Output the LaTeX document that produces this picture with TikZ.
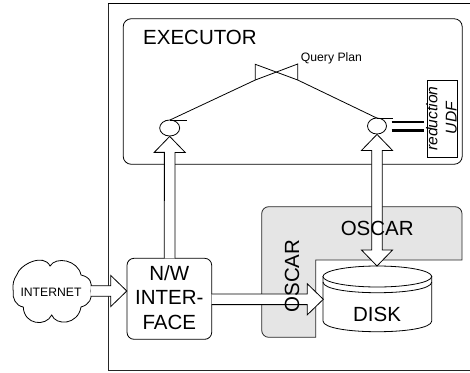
\documentclass[tikz,border=0pt]{standalone}
\usepackage{fontspec}
\setmainfont{Liberation Sans}
\usetikzlibrary{calc,shapes.geometric}
\newcommand{\blockarrow}[2]{\draw[conn] let \p1=($(#2)-(#1)$), \n1={atan2(\y1,\x1)}, \n2={veclen(\x1,\y1)} in [shift={(#1)},rotate=\n1]
  (0pt,5.3pt)--(\n2-16pt,5.3pt)--(\n2-16pt,15.5pt)--(\n2+0pt,0pt)--(\n2-16pt,-15.5pt)--(\n2-16pt,-5.3pt)--(0pt,-5.3pt);}
\newcommand{\bothblockarrow}[2]{\draw[conn,line join=miter] let \p1=($(#2)-(#1)$), \n1={atan2(\y1,\x1)}, \n2={veclen(\x1,\y1)} in [shift={(#1)},rotate=\n1]
  (16pt,5.3pt)--(\n2-16pt,5.3pt)--(\n2-16pt,15.5pt)--(\n2+0pt,0pt)--(\n2-16pt,-15.5pt)--(\n2-16pt,-5.3pt)--(16pt,-5.3pt)--(16pt,-15.5pt)--(0pt,0pt)--(16pt,15.5pt)--cycle;}
\tikzset{
  x=1pt,y=-1pt,
  line/.style={line width=0.8pt,black},
  conn/.style={line width=0.8pt,draw=black,fill=white},
  bigtext/.style={font=\fontsize{20.5}{24.3}\selectfont,inner sep=0pt,text=black},
  smalltext/.style={font=\fontsize{12.2}{14}\selectfont,inner sep=0pt,text=black},
  udftext/.style={font=\fontsize{15.6}{18}\selectfont\itshape,inner sep=0pt,text=black,rotate=90,anchor=base},
  roundbox/.style={draw=black,line width=0.8pt,rounded corners=7pt,fill=white},
  joinnode/.style={draw=black,line width=0.8pt,ellipse,fill=white,inner sep=0pt,minimum width=20pt,minimum height=16pt},
}
\begin{document}
\begin{tikzpicture}
\useasboundingbox (0,0) rectangle (470,372);
% outer frame (open on the right)
\draw[line width=0.9pt,black!85] (108,3.5) -- (108,370) -- (470,370);
\draw[line width=0.9pt,black] (108,3.5) -- (470,3.5);
% executor
\node[draw=black,line width=0.8pt,rounded corners=8pt,minimum width=339pt,minimum height=145.5pt,inner sep=0pt] (executor) at (292.7,91.5) {};
% oscar
\path[draw=black!85,fill=black!10,line width=0.8pt,rounded corners=7pt]
  (315.7,260) [sharp corners] -- (462,260) [rounded corners=7pt] -- (462,206.7) -- (261.7,206.7) -- (261.7,337.3) [sharp corners] -- (315.7,337.3) -- cycle;
% disk
\draw[line,fill=white] (323,276.5) -- (323,321) .. controls (323,335.3) and (431.7,335.3) .. (431.7,321) -- (431.7,276.5) -- cycle;
\draw[line,fill=white] (377.35,276.5) ellipse [x radius=54.35,y radius=10.5];
\draw[line] (323,282) .. controls (323,296.3) and (431.7,296.3) .. (431.7,282);
\coordinate (disktop) at (377,266);
\coordinate (diskwest) at (323.3,299.3);
% network interface
\node[roundbox,minimum width=84.7pt,minimum height=81pt,inner sep=0pt,bigtext,align=center,text depth=3pt] (nw) at (169.35,298.8) {N/W\\INTER-\\FACE};
% query plan joins
\node[joinnode] (jl) at (169.7,128) {};
\node[joinnode,minimum width=19pt] (jr) at (377,126) {};
\coordinate (ltl) at (255.3,64.3);
\coordinate (lbl) at (255.3,80);
\coordinate (rtr) at (297.7,64);
\coordinate (rbr) at (297.7,80);
\coordinate (jlt) at (170,120);
\coordinate (jrt) at (376.7,118);
\draw[line] (jlt) -- (lbl) -- (ltl) -- (rbr) -- (jrt);
\draw[line] (lbl) -- (rtr) -- (rbr);
\draw[line] (jlt) -- ++(16.7,0);
\draw[line] (jrt) -- ++(16,0);
% udf
\node[draw=black,line width=0.8pt,minimum width=30.4pt,minimum height=76.7pt,inner sep=0pt] (udf) at (442.5,118.7) {};
\draw[line width=2.5pt,black] (391.7,122) -- (424.3,122);
\draw[line width=2.5pt,black] (391.7,130.3) -- (424.3,130.3);
% cloud
\draw[line] (16.7,275) .. controls (20,264) and (44,253) .. (50,266)
  .. controls (56,256) and (78,260) .. (81,275)
  .. controls (90,277) and (93,283) .. (90.7,291)
  .. controls (93,298) and (89,305) .. (81,307)
  .. controls (78,325) and (56,326) .. (51.7,315)
  .. controls (46,327) and (24,325) .. (23.3,307)
  .. controls (16,306) and (12,298) .. (13.3,291.5)
  .. controls (12,284) and (14,279) .. (16.7,275) -- cycle;
\coordinate (cloudeast) at (90.7,291);
\coordinate (nwwest) at (126.8,291);
\coordinate (nweast) at (211.7,299.3);
\coordinate (nwnorth) at (169.6,258.3);
% block arrows
\blockarrow{cloudeast}{nwwest}
\blockarrow{nwnorth}{jl.south}
\blockarrow{nweast}{diskwest}
\bothblockarrow{disktop}{jr.south}
% labels
\node[bigtext,anchor=base west] (exlabel) at (143,44) {EXECUTOR};
\node[smalltext,anchor=base west] (qplabel) at (300.7,61.5) {Query Plan};
\node[udftext] (redlabel) at (437.3,118.5) {reduction};
\node[udftext] (udflabel) at (456.7,118) {UDF};
\node[bigtext,anchor=base] (osc1) at (377.2,235.3) {OSCAR};
\node[bigtext,anchor=base,rotate=90] (osc2) at (299,276) {OSCAR};
\node[bigtext,anchor=base] (disk) at (377,321) {DISK};
\node[smalltext,anchor=base] (inet) at (51,296) {INTERNET};
\end{tikzpicture}
\end{document}
